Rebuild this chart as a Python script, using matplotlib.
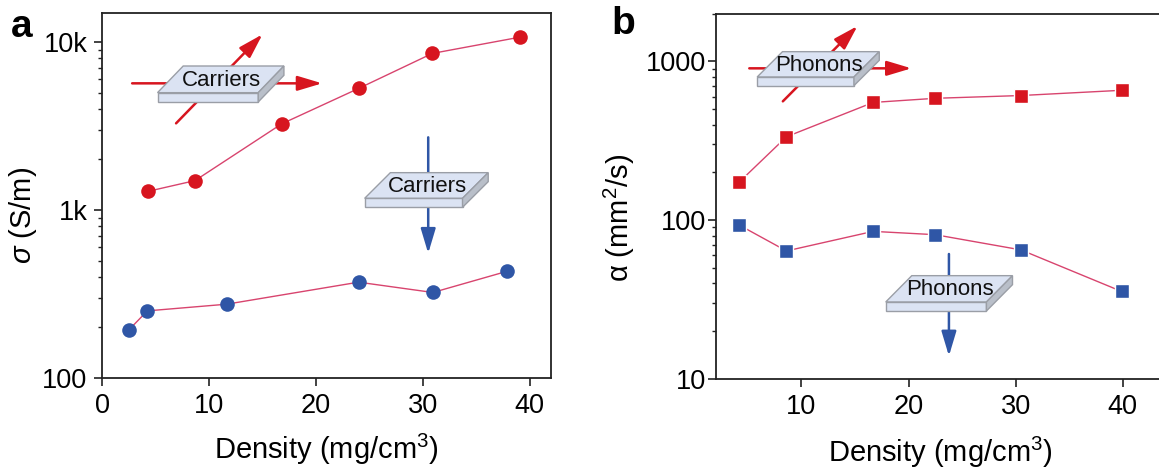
import matplotlib
matplotlib.use("Agg")
import matplotlib.pyplot as plt
from matplotlib.patches import Polygon
from matplotlib.ticker import FixedLocator, NullFormatter

plt.rcParams['font.family'] = ['Liberation Sans', 'DejaVu Sans']
plt.rcParams['mathtext.fontset'] = 'custom'
plt.rcParams['mathtext.rm'] = 'Liberation Sans'
plt.rcParams['mathtext.it'] = 'Liberation Sans:italic'
plt.rcParams['mathtext.bf'] = 'Liberation Sans:bold'

# panel a, conductivity
a_red_x = [4.3, 8.7, 16.8, 24.0, 30.9, 39.1]
a_red_y = [1292, 1497, 3257, 5295, 8560, 10700]
a_blue_x = [2.5, 4.24, 11.65, 24.0, 30.95, 37.9]
a_blue_y = [193, 251, 275, 372, 323, 432]
a_yticks = [100, 1000, 10000]
a_ylabels = ['100', '1k', '10k']
a_xticks = [0, 10, 20, 30, 40]

# panel b, diffusivity
b_x = [4.2, 8.6, 16.7, 22.5, 30.5, 39.9]
b_red_y = [174, 335, 551, 585, 609, 657]
b_blue_y = [93, 64, 85, 81, 65, 35.6]
b_yticks = [10, 100, 1000]
b_ylabels = ['10', '100', '1000']
b_xticks = [10, 20, 30, 40]

RED = '#d7151f'
BLUE = '#2f56a6'
LINE = '#d8446e'
W, H = 1159, 472


def make_axes(left, right, top, bottom):
    return fig.add_axes([left / W, 1 - bottom / H, (right - left) / W, (bottom - top) / H])


def style_axes(ax, xticks, yticks, ylabels):
    ax.set_yscale('log')
    ax.set_xticks(xticks)
    ax.xaxis.set_minor_locator(FixedLocator([x + 5 for x in range(-5, 45, 10)]))
    ax.set_yticks(yticks)
    ax.set_yticklabels(ylabels)
    ax.yaxis.set_minor_locator(FixedLocator(
        [m * 10 ** e for e in range(1, 5) for m in range(2, 10)]))
    ax.yaxis.set_minor_formatter(NullFormatter())
    ax.tick_params(which='major', length=5.5, width=1.2, labelsize=19.5, color='#222222')
    ax.tick_params(axis='both', which='major', pad=5)
    ax.tick_params(which='minor', length=3, width=1, color='#222222')
    for s in ax.spines.values():
        s.set_linewidth(1.3)
        s.set_color('#222222')


def plate(zx, zy, dx, dw, hgt, text, ox=0):
    # plate outline given in zoomed crop units, zx/zy = front left top corner
    def p(x, y):
        return (ox + x / 2.8, y / 3)
    edge = '#9a9ea6'
    top = [p(zx, zy), p(zx + dx, zy - dw), p(zx + dx + hgt[0], zy - dw), p(zx + hgt[0], zy)]
    front = [p(zx, zy), p(zx + hgt[0], zy), p(zx + hgt[0], zy + hgt[1]), p(zx, zy + hgt[1])]
    side = [p(zx + hgt[0], zy), p(zx + hgt[0] + dx, zy - dw),
            p(zx + hgt[0] + dx, zy - dw + hgt[1]), p(zx + hgt[0], zy + hgt[1])]
    over.add_patch(Polygon(top, fc='#dbe3f3', ec=edge, lw=1, zorder=5))
    over.add_patch(Polygon(front, fc='#dbe3f3', ec=edge, lw=1, zorder=5))
    over.add_patch(Polygon(side, fc='#b9bfc9', ec=edge, lw=1, zorder=5))
    tx, ty = p(zx + (dx + hgt[0]) / 2, zy - dw / 2)
    over.text(tx + 1, ty + 1, text, fontsize=16, ha='center', va='center', color='#111111', zorder=6)


def arrow(x0, y0, x1, y1, color, ox=0):
    over.annotate('', xy=(ox + x1 / 2.8, y1 / 3), xytext=(ox + x0 / 2.8, y0 / 3),
                  arrowprops=dict(arrowstyle='-|>,head_length=1.5,head_width=0.45',
                                  color=color, lw=1.8, shrinkA=0, shrinkB=0), zorder=3)


fig = plt.figure(figsize=(W / 100, H / 100), dpi=100)

ax1 = make_axes(102, 551, 12.5, 378)
ax1.plot(a_red_x, a_red_y, '-', color=LINE, lw=1, zorder=2)
ax1.plot(a_red_x, a_red_y, 'o', color=RED, ms=10.5, mew=0, zorder=3)
ax1.plot(a_blue_x, a_blue_y, '-', color=LINE, lw=1, zorder=2)
ax1.plot(a_blue_x, a_blue_y, 'o', color=BLUE, ms=10.5, mew=0, zorder=3)
style_axes(ax1, a_xticks, a_yticks, a_ylabels)
ax1.set_xlim(0, 42)
ax1.set_ylim(100, 15000)
ax1.set_xlabel('Density (mg/cm$^{3}$)', fontsize=21)
ax1.set_ylabel('$\\sigma$ (S/m)', fontsize=21)
ax1.xaxis.set_label_coords(0.5, -0.148)
ax1.yaxis.set_label_coords(-0.14, 0.445)

ax2 = make_axes(715.5, 1159, 13.5, 379)
ax2.plot(b_x, b_red_y, '-', color=LINE, lw=1, zorder=2)
ax2.plot(b_x, b_red_y, 's', color=RED, ms=9.5, mec='white', mew=1, zorder=3)
ax2.plot(b_x, b_blue_y, '-', color=LINE, lw=1, zorder=2)
ax2.plot(b_x, b_blue_y, 's', color=BLUE, ms=9.5, mec='white', mew=1, zorder=3)
style_axes(ax2, b_xticks, b_yticks, b_ylabels)
ax2.tick_params(axis='y', which='major', pad=1.5)
ax2.set_xlim(1.97, 43.4)
ax2.set_ylim(10, 2000)
ax2.spines['right'].set_visible(False)
ax2.set_xlabel('Density (mg/cm$^{3}$)', fontsize=21)
ax2.set_ylabel('\u03b1 (mm$^{2}$/s)', fontsize=21)
ax2.xaxis.set_label_coords(0.508, -0.153)
ax2.yaxis.set_label_coords(-0.178, 0.44)

# sketches of the plates and panel letters, in pixel coordinates
over = fig.add_axes([0, 0, 1, 1], zorder=10)
over.set_xlim(0, W)
over.set_ylim(H, 0)
over.axis('off')

arrow(370, 250, 902, 250, RED)
arrow(493, 370, 735, 103, RED)
plate(441, 278, 72, 80, (282, 28), 'Carriers')
arrow(1199, 412, 1199, 760, BLUE)
plate(1021, 595, 72, 77, (274, 27), 'Carriers')

arrow(418, 205, 872, 205, RED, ox=600)
arrow(512, 304, 721, 78, RED, ox=600)
plate(440, 231, 71, 76, (271, 26), 'Phonons', ox=600)
arrow(977, 762, 977, 1068, BLUE, ox=600)
plate(800, 906, 73, 79, (282, 27), 'Phonons', ox=600)

over.text(22, 27, 'a', fontsize=28, fontweight='bold', ha='center', va='center')
over.text(623, 24, 'b', fontsize=28, fontweight='bold', ha='center', va='center')

fig.savefig('out.png', dpi=100)
